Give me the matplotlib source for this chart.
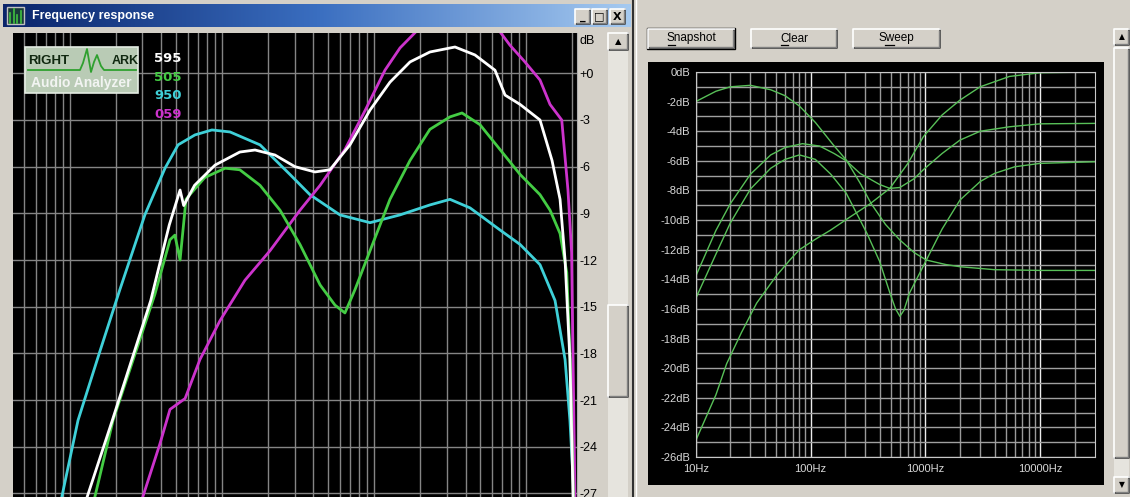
import matplotlib
matplotlib.use("Agg")
import numpy as np
import matplotlib.pyplot as plt
from matplotlib.patches import Rectangle
from matplotlib.colors import LinearSegmentedColormap
from matplotlib.ticker import NullLocator, FixedLocator

W, H = 1130, 497

# ---- left window: RightMark frequency response, Hz / dB ----
freq_595 = [13, 19, 34, 45, 53, 56, 66, 90, 131, 165, 223, 302, 409, 513, 695, 942,
            1274, 1726, 2333, 3412, 4615, 6250, 7280, 9140, 12360, 14830, 16750,
            18070, 19450, 20400]
db_595 = [-27.2, -22.3, -14.6, -9.75, -7.5, -8.5, -7.2, -5.9, -5.06, -4.93, -5.25,
          -6.0, -6.34, -6.2, -4.6, -2.36, -0.57, 0.73, 1.37, 1.69, 1.18, 0.2, -1.4,
          -2.0, -3.0, -5.6, -8.1, -12.0, -18.4, -27.2]

freq_505 = [14.6, 19.2, 36.2, 45.5, 49, 53, 58, 61.5, 77, 105, 131, 178, 241, 326,
            442, 554, 644, 750, 942, 1274, 1726, 2333, 3162, 3793, 4979, 6745, 9142,
            12360, 14400, 16750, 18550, 19450, 20500]
db_505 = [-27.2, -22.3, -14.2, -10.7, -10.4, -12.0, -8.1, -7.8, -6.7, -6.1, -6.2,
          -7.2, -8.8, -11.0, -13.6, -14.9, -15.4, -13.9, -11.4, -8.1, -5.6, -3.6,
          -2.8, -2.55, -3.3, -4.9, -6.5, -7.8, -8.8, -10.3, -12.8, -18.0, -27.2]

freq_950 = [8.85, 11.3, 15.7, 21.3, 31.1, 42.2, 51.4, 66.4, 85.9, 113, 178, 280,
            379, 597, 942, 1483, 2333, 3162, 4285, 6745, 9142, 12360, 15520, 18070,
            19450, 20700]
db_950 = [-27.2, -22.3, -17.9, -13.9, -9.1, -6.1, -4.6, -3.96, -3.64, -3.77, -4.6,
          -6.5, -7.8, -9.1, -9.6, -9.1, -8.46, -8.1, -8.65, -10.07, -11.0, -12.3,
          -14.6, -18.4, -22.3, -27.2]

freq_059 = [30.2, 39.1, 45.5, 57.2, 71.6, 97, 141.6, 207, 326, 442, 644, 873, 1181,
            1483, 1945, 2716, 4285, 6250, 7850, 9840, 12360, 14390, 17180, 18880,
            19950, 20370, 20990]
db_059 = [-27.2, -23.8, -21.6, -20.9, -18.4, -15.9, -13.3, -11.4, -8.8, -7.2, -4.9,
          -2.4, 0.2, 1.63, 2.8, 3.75, 4.07, 3.1, 1.8, 0.73, -0.43, -2.0, -3.0, -7.5,
          -11.5, -18.0, -27.2]

left_db_ticks = [0, -3, -6, -9, -12, -15, -18, -21, -24, -27]
left_db_labels = ["+0", "-3", "-6", "-9", "-12", "-15", "-18", "-21", "-24", "-27"]
legend_names = ["595", "505", "950", "059"]

# ---- right window: four filter responses, Hz / dB ----
freq_a = [10, 15, 20, 30, 45, 60, 80, 110, 157, 205, 270, 338, 450, 600, 800, 1020,
          1500, 2000, 4000, 10000, 30000]
db_a = [-2.0, -1.3, -1.0, -0.9, -1.2, -1.6, -2.3, -3.4, -4.9, -5.95, -7.5, -8.9,
        -10.3, -11.35, -12.2, -12.7, -13.0, -13.15, -13.35, -13.4, -13.4]

freq_b = [10, 15, 20, 30, 45, 60, 85, 120, 160, 205, 270, 300, 400, 490, 600, 800,
          960, 1400, 2000, 3000, 5400, 10000, 30000]
db_b = [-13.8, -10.7, -8.9, -6.9, -5.6, -5.1, -4.84, -5.0, -5.5, -6.0, -6.85, -7.05,
        -7.6, -7.86, -7.8, -7.2, -6.6, -5.5, -4.6, -4.0, -3.7, -3.5, -3.47]

freq_c = [10, 15, 20, 30, 45, 60, 80, 110, 150, 205, 310, 400, 490, 550, 600, 650,
          730, 890, 1020, 1400, 2000, 3000, 4000, 6000, 10000, 30000]
db_c = [-15.3, -12.3, -10.2, -7.9, -6.5, -5.9, -5.6, -5.9, -6.9, -8.2, -10.9, -12.8,
        -14.9, -16.0, -16.5, -16.1, -14.9, -13.6, -12.7, -10.6, -8.65, -7.4, -6.85,
        -6.4, -6.17, -6.06]

freq_d = [10, 15, 18.6, 25, 34, 50, 66, 80, 110, 148, 220, 330, 490, 700, 960, 1400,
          2000, 3000, 5400, 10000, 30000]
db_d = [-24.9, -21.8, -19.7, -17.6, -15.6, -13.8, -12.7, -12.0, -11.3, -10.7, -9.8,
        -8.9, -7.86, -6.2, -4.37, -2.9, -1.9, -1.0, -0.3, -0.05, 0.0]

right_db_ticks = list(range(0, -27, -2))
right_hz_ticks = [10, 100, 1000, 10000]

GRAY = "#d4d0c8"
UI_FONT = ["Liberation Sans", "DejaVu Sans"]


def px(x0, y0, x1, y1):
    return [x0 / W, 1 - y1 / H, (x1 - x0) / W, (y1 - y0) / H]


fig = plt.figure(figsize=(W / 100, H / 100), dpi=100, facecolor=GRAY)

bg = fig.add_axes([0, 0, 1, 1], zorder=0)
bg.axis("off")


def box(x0, y0, x1, y1, **kw):
    bg.add_patch(Rectangle((x0, y0), x1 - x0, y1 - y0, **kw))


def button3d(x0, y0, x1, y1, default=False):
    box(x0, y0, x1, y1, facecolor=GRAY, edgecolor="none")
    bg.plot([x0, x1, x1], [y1, y1, y0], color="#404040", lw=1.2)
    bg.plot([x0, x0, x1], [y1, y0, y0], color="white", lw=1.2)
    bg.plot([x0 + 1.5, x1 - 1.5, x1 - 1.5], [y1 - 1.5, y1 - 1.5, y0 + 1.5], color="#808080", lw=1)
    if default:
        box(x0 - 1, y0 - 1, x1 + 1, y1 + 1, facecolor="none", edgecolor="black", lw=1)


# left window title bar
grad = LinearSegmentedColormap.from_list("title", ["#0a246a", "#3a6ec0", "#a6caf0"])
bg.imshow(np.linspace(0, 1, 256)[None, :], extent=(3, 631, 27, 4), cmap=grad, aspect="auto")
box(7, 7, 24, 24, facecolor="#1a3a3a", edgecolor="#c0c0c0", lw=1)
for i, hgt in enumerate([10, 14, 8, 12]):
    bg.plot([10 + i * 3.5] * 2, [23, 23 - hgt], color="#40c040", lw=1.2)
bg.text(32, 16, "Frequency response", color="white", fontsize=9, fontweight="bold",
        va="center", ha="left", family=UI_FONT)
for x0, glyph in [(575, "_"), (592, "\u25a1"), (610, "X")]:
    button3d(x0, 9, x0 + 15, 24)
    bg.text(x0 + 7.5, 16.5, glyph, fontsize=8, fontweight="bold", ha="center", va="center",
            family=["DejaVu Sans"])

# left window scrollbar
box(608, 33, 628, 497, facecolor="#e6e4de", edgecolor="none")
button3d(608, 33, 628, 50)
bg.text(618, 41.5, "\u25b2", fontsize=6, ha="center", va="center")
button3d(608, 305, 628, 397)

# window separator
bg.plot([633, 633], [0, H], color="#303030", lw=1.5)
bg.plot([636, 636], [0, H], color="white", lw=1)

# right window buttons
for (x0, x1), label in [((648, 734), "Snapshot"), ((751, 837), "Clear"), ((853, 940), "Sweep")]:
    button3d(x0, 29, x1, 48, default=(label == "Snapshot"))
    bg.text((x0 + x1) / 2, 38.5, label, fontsize=8.5, ha="center", va="center", family=UI_FONT)
for x0, x1 in [(668, 675), (781, 788), (885, 894)]:
    bg.plot([x0, x1], [44.5, 44.5], color="black", lw=0.9)

# right window black panel and scrollbar
box(648, 62, 1104, 485, facecolor="black", edgecolor="none")
box(1114, 29, 1129, 493, facecolor="#e6e4de", edgecolor="none")
button3d(1114, 29, 1129, 45)
bg.text(1121.5, 37, "\u25b2", fontsize=5.5, ha="center", va="center")
button3d(1114, 48, 1129, 458)
button3d(1114, 477, 1129, 493)
bg.text(1121.5, 485, "\u25bc", fontsize=5.5, ha="center", va="center")

bg.set_xlim(0, W)
bg.set_ylim(H, 0)

# ---- left plot ----
la = fig.add_axes(px(13, 33, 577, 497), zorder=2)
la.set_facecolor("black")
la.set_xscale("log")
la.set_xlim(4.22, 21650)
la.set_ylim(-27.23, 2.59)
grid_f = [m * 10 ** k for k in range(0, 5) for m in range(1, 10) if 4.22 < m * 10 ** k < 21650]
la.xaxis.set_major_locator(FixedLocator(grid_f))
la.xaxis.set_minor_locator(NullLocator())
la.tick_params(axis="x", length=0, labelbottom=False)
la.set_yticks(left_db_ticks)
la.set_yticklabels(left_db_labels)
la.yaxis.tick_right()
la.tick_params(axis="y", length=0, pad=1.5, labelsize=9, labelcolor="black")
for lab in la.get_yticklabels():
    lab.set_family(UI_FONT)
la.grid(True, color="#858585", lw=1)
for side in ["top", "left", "bottom"]:
    la.spines[side].set_visible(False)
la.spines["right"].set_color("#b0b0b0")
la.plot(freq_950, db_950, color="#3fd0d8", lw=2)
la.plot(freq_059, db_059, color="#cc33cc", lw=2)
la.plot(freq_505, db_505, color="#44cc44", lw=2)
la.plot(freq_595, db_595, color="white", lw=2)
bg.text(579, 41, "dB", fontsize=9, ha="left", va="center", family=UI_FONT)

# ---- right plot ----
ra = fig.add_axes(px(695.7, 72, 1095, 457), zorder=2)
ra.set_facecolor("black")
ra.set_xscale("log")
ra.set_xlim(10, 30000)
ra.set_ylim(-26, 0)
ra.xaxis.set_major_locator(FixedLocator(right_hz_ticks))
ra.set_xticklabels([f"{f}Hz" for f in right_hz_ticks])
minor_f = [m * 10 ** k for k in range(1, 5) for m in range(2, 10) if m * 10 ** k < 30000]
ra.xaxis.set_minor_locator(FixedLocator(minor_f))
ra.set_yticks(right_db_ticks)
ra.set_yticklabels([f"{d}dB" for d in right_db_ticks])
ra.yaxis.set_minor_locator(FixedLocator(list(range(-25, 0, 2))))
ra.tick_params(which="both", length=0)
ra.tick_params(axis="y", pad=4, labelsize=8, labelcolor="#d8d8d8")
ra.tick_params(axis="x", pad=5, labelsize=8, labelcolor="#d8d8d8")
for lab in ra.get_xticklabels() + ra.get_yticklabels():
    lab.set_family(UI_FONT)
ra.grid(True, which="major", axis="x", color="#ececec", lw=1)
ra.grid(True, which="minor", axis="x", color="#9a9a9a", lw=1)
ra.grid(True, which="both", axis="y", color="#a0a0a0", lw=1)
for s in ra.spines.values():
    s.set_color("#c8c8c8")
for fr, db in [(freq_a, db_a), (freq_b, db_b), (freq_c, db_c), (freq_d, db_d)]:
    ra.plot(fr, db, color="#58c058", lw=1)

# ---- RightMark logo and legend over the left plot ----
top = fig.add_axes([0, 0, 1, 1], zorder=5)
top.axis("off")
top.add_patch(Rectangle((25, 47), 113, 46, facecolor="#b9cbb5", edgecolor="#e4ece2", lw=1.2))
top.text(28.5, 61.5, "RIGHT", fontsize=9.5, fontweight="bold", color="#102810",
         ha="left", va="center", family=UI_FONT)
top.text(111.5, 61.5, "ARK", fontsize=9, fontweight="bold", color="#102810",
         ha="left", va="center", family=UI_FONT)
top.plot([28, 80, 83, 87, 91, 94, 97, 101, 104, 136],
         [70, 70, 63, 49, 72, 62, 55, 66, 70, 70], color="#2fa02f", lw=1.3)
top.text(81.5, 82.5, "Audio Analyzer", fontsize=10, fontweight="bold", color="#f2f4f2",
         ha="center", va="center", family=UI_FONT)
for i, (name, col) in enumerate(zip(legend_names, ["white", "#44cc44", "#3fd0d8", "#cc33cc"])):
    top.text(154, 58.5 + i * 18.7, name, fontsize=9.5, fontweight="bold", color=col,
             ha="left", va="center", family=["DejaVu Sans"])
top.set_xlim(0, W)
top.set_ylim(H, 0)

fig.savefig("out.png", dpi=100, facecolor=GRAY)
